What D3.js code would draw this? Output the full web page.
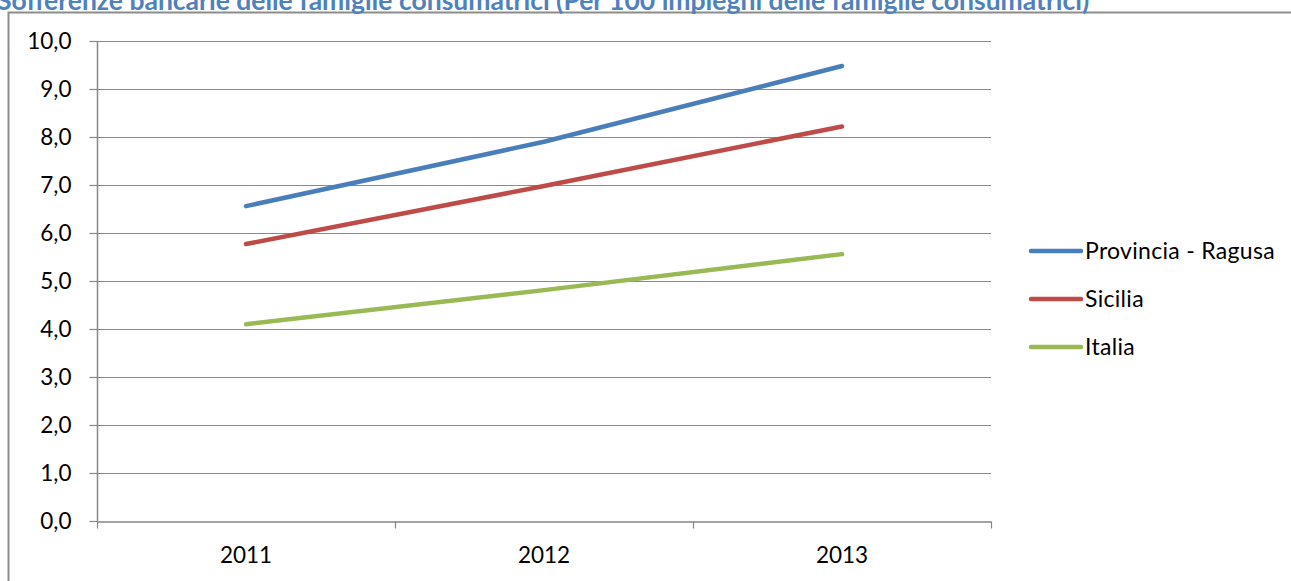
<!DOCTYPE html>
<html>
<head>
<meta charset="utf-8">
<script src="https://cdn.jsdelivr.net/npm/d3@7"></script>
<style>
  body { margin: 0; background: #fff; }
  svg { display: block; font-family: Lato, "Open Sans", sans-serif; }
</style>
</head>
<body>
<svg id="chart" width="1291" height="581"></svg>
<script>
var years = ['2011', '2012', '2013'];
var seriesNames = ['Provincia - Ragusa', 'Sicilia', 'Italia'];
var ragusa = [6.56, 7.90, 9.48];
var sicilia = [5.77, 6.98, 8.22];
var italia = [4.10, 4.81, 5.56];
var colors = ['#4a7ebb', '#be4b48', '#98b954'];
var yTicks = [0, 1, 2, 3, 4, 5, 6, 7, 8, 9, 10];

var title = 'Sofferenze bancarie delle famiglie consumatrici (Per 100 impieghi delle famiglie consumatrici)';

var margin = {top: 41, left: 97},
    width = 894,
    height = 480;

var svg = d3.select('#chart');

// outer chart frame
svg.append('rect')
    .attr('x', 8.5)
    .attr('y', 12.5)
    .attr('width', 1300)
    .attr('height', 600)
    .attr('fill', 'none')
    .attr('stroke', '#8c8c8c')
    .attr('stroke-width', 2)

// title (cut off at the top in the original)
svg.append('text')
    .attr('x', -3)
    .attr('y', 10)
    .attr('font-size', 26.5)
    .attr('font-weight', 'bold')
    .attr('fill', '#4f81bd')
    .text(title)

var g = svg.append('g').attr('transform', 'translate(' + margin.left + ',' + margin.top + ')')

var xScale = d3.scaleBand()
    .domain(years)
    .range([0, width])

var yScale = d3.scaleLinear()
    .domain([0, 10])
    .range([height, 0])

// gridlines
g.append('g')
    .selectAll('line')
    .data(yTicks.filter(d => d > 0))
    .enter()
    .append('line')
    .attr('x1', 0)
    .attr('x2', width)
    .attr('y1', d => Math.round(yScale(d)) + 0.5)
    .attr('y2', d => Math.round(yScale(d)) + 0.5)
    .attr('stroke', '#8a8a8a')
    .attr('stroke-width', 1.2)

// y axis
var yAxis = d3.axisLeft(yScale)
    .tickValues(yTicks)
    .tickSize(8)
    .tickPadding(18)
    .tickFormat(d => d3.format('.1f')(d).replace('.', ','))

var ya = g.append('g').attr('transform', 'translate(0.5,0)').call(yAxis)

// x axis
var xAxis = d3.axisBottom(xScale)
    .tickSize(0)
    .tickPadding(26)

var xa = g.append('g').attr('transform', 'translate(0,' + (height + 0.5) + ')').call(xAxis)

// band boundary ticks
xa.selectAll('.bound')
    .data(d3.range(years.length + 1))
    .enter()
    .append('line')
    .attr('class', 'bound')
    .attr('x1', i => Math.round(i * xScale.step()) + 0.5)
    .attr('x2', i => Math.round(i * xScale.step()) + 0.5)
    .attr('y1', 0)
    .attr('y2', 7)
    .attr('stroke', '#868686')
    .attr('stroke-width', 1.2)

svg.selectAll('.domain').attr('stroke', '#868686').attr('stroke-width', 1.5)
ya.selectAll('.tick line').attr('stroke', '#868686').attr('stroke-width', 1.2)
svg.selectAll('.tick text')
    .attr('font-size', 22.5)
    .attr('font-family', 'Lato, sans-serif')
    .attr('fill', '#000')
ya.select('.domain').attr('d', 'M0,' + height + 'V0')

// lines
var lineGen = d3.line()
    .x((d, i) => xScale(years[i]) + xScale.bandwidth() / 2)
    .y(d => yScale(d))

var allSeries = [ragusa, sicilia, italia];

g.selectAll('.series')
    .data(allSeries)
    .enter()
    .append('path')
    .attr('class', 'series')
    .attr('d', lineGen)
    .attr('fill', 'none')
    .attr('stroke', (d, i) => colors[i])
    .attr('stroke-width', 4.5)
    .attr('stroke-linecap', 'round')
    .attr('stroke-linejoin', 'round')

// legend
var legend = svg.append('g').attr('transform', 'translate(1031,251)')

var items = legend.selectAll('g')
    .data(seriesNames)
    .enter()
    .append('g')
    .attr('transform', (d, i) => 'translate(0,' + i * 48 + ')')

items.append('line')
    .attr('x1', 0)
    .attr('x2', 50)
    .attr('stroke', (d, i) => colors[i])
    .attr('stroke-width', 4.5)
    .attr('stroke-linecap', 'round')

items.append('text')
    .attr('x', 54)
    .attr('dy', '0.35em')
    .attr('font-size', 23)
    .attr('letter-spacing', 0.3)
    .text(d => d)
</script>
</body>
</html>
